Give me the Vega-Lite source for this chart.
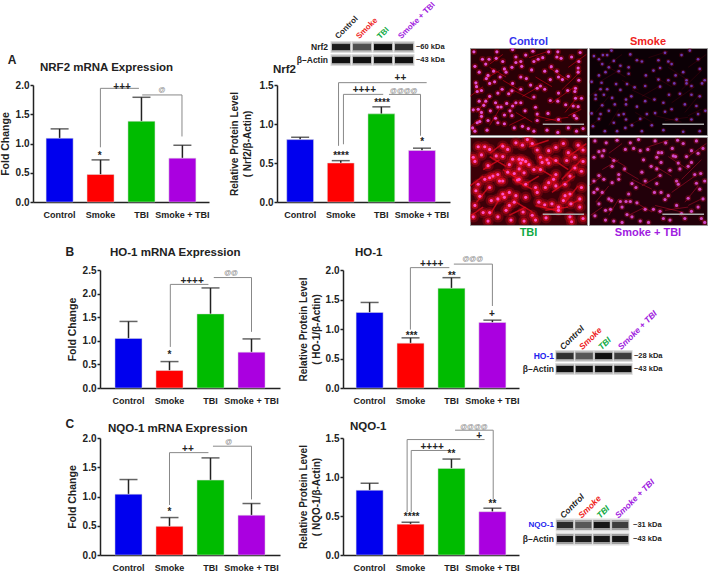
{
"$schema":"https://vega.github.io/schema/vega-lite/v6.json",
"background":"white",
"padding":{"left":0,"top":0,"right":0,"bottom":0},
"resolve":{"scale":{"color":"independent"}},
"config":{"font":"Liberation Sans","view":{"stroke":null},
 "title":{"fontSize":11.5,"fontWeight":"bold","color":"#222","anchor":"start","frame":"group"},
 "axis":{"grid":false,"domainColor":"#222","domainWidth":1.5,"tickColor":"#222","tickWidth":1.5,"tickSize":3,"labelColor":"#222","labelFont":"Liberation Sans","labelFontWeight":"bold","labelFontSize":10,"labelPadding":1,"titleColor":"#222","titleFont":"Liberation Sans","titleFontWeight":"bold","titleFontSize":10.5,"titlePadding":5},
 "axisX":{"ticks":false,"labelAngle":0,"labelFontSize":9,"labelPadding":8,"labelOverlap":false,"labelBound":false,"labelFlush":false},
 "axisY":{"labelOverlap":false,"labelBound":false,"labelFlush":false},
 "text":{"font":"Liberation Sans","fontWeight":"bold"}
},
"datasets":{
"a1":[{"group":"Control","mean":1.09,"upper":1.25},{"group":"Smoke","mean":0.47,"upper":0.72},{"group":"TBI","mean":1.38,"upper":1.79},{"group":"Smoke + TBI","mean":0.75,"upper":0.97}],
"a2":[{"group":"Control","mean":0.80,"upper":0.83},{"group":"Smoke","mean":0.50,"upper":0.53},{"group":"TBI","mean":1.13,"upper":1.22},{"group":"Smoke + TBI","mean":0.66,"upper":0.69}],
"b1":[{"group":"Control","mean":1.05,"upper":1.41},{"group":"Smoke","mean":0.37,"upper":0.56},{"group":"TBI","mean":1.57,"upper":2.12},{"group":"Smoke + TBI","mean":0.76,"upper":1.04}],
"b2":[{"group":"Control","mean":1.28,"upper":1.45},{"group":"Smoke","mean":0.76,"upper":0.85},{"group":"TBI","mean":1.69,"upper":1.87},{"group":"Smoke + TBI","mean":1.11,"upper":1.15}],
"c1":[{"group":"Control","mean":1.04,"upper":1.29},{"group":"Smoke","mean":0.49,"upper":0.64},{"group":"TBI","mean":1.28,"upper":1.66},{"group":"Smoke + TBI","mean":0.68,"upper":0.88}],
"c2":[{"group":"Control","mean":0.83,"upper":0.92},{"group":"Smoke","mean":0.395,"upper":0.42},{"group":"TBI","mean":1.11,"upper":1.23},{"group":"Smoke + TBI","mean":0.555,"upper":0.60}],
"a1l":[{"b":1,"o":1,"q":1.01,"y":0.935},{"b":1,"o":2,"q":1.01,"y":1.943},{"b":1,"o":3,"q":1.95,"y":1.943},{"b":2,"o":1,"q":2.03,"y":1.83},{"b":2,"o":2,"q":3.0,"y":1.83},{"b":2,"o":3,"q":3.0,"y":1.12}],
"a1t":[{"t":"+++","q":1.54,"y":1.97,"k":"sig"},{"t":"@","q":2.51,"y":1.915,"k":"alt"},{"t":"*","q":0.99,"y":0.78,"k":"sig"},{"t":"A","q":-1.146,"y":2.43,"k":"letter"}],
"a2l":[{"b":1,"o":1,"q":0.94,"y":0.72},{"b":1,"o":2,"q":0.94,"y":1.53},{"b":1,"o":3,"q":3.09,"y":1.53},{"b":2,"o":1,"q":1.06,"y":0.74},{"b":2,"o":2,"q":1.06,"y":1.38},{"b":2,"o":3,"q":2.03,"y":1.38},{"b":3,"o":1,"q":2.17,"y":1.38},{"b":3,"o":2,"q":2.94,"y":1.38},{"b":3,"o":3,"q":2.94,"y":0.85}],
"a2t":[{"t":"++","q":2.45,"y":1.59,"k":"sig"},{"t":"++++","q":1.57,"y":1.44,"k":"sig"},{"t":"@@@@","q":2.53,"y":1.42,"k":"alt"},{"t":"****","q":1.0,"y":0.59,"k":"sig"},{"t":"****","q":2.0,"y":1.27,"k":"sig"},{"t":"*","q":2.98,"y":0.765,"k":"sig"}],
"b1l":[{"b":1,"o":1,"q":1.02,"y":0.87},{"b":1,"o":2,"q":1.02,"y":2.195},{"b":1,"o":3,"q":1.95,"y":2.195},{"b":2,"o":1,"q":2.08,"y":2.34},{"b":2,"o":2,"q":3.0,"y":2.34},{"b":2,"o":3,"q":3.0,"y":1.19}],
"b1t":[{"t":"++++","q":1.55,"y":2.27,"k":"sig"},{"t":"@@","q":2.5,"y":2.44,"k":"alt"},{"t":"*","q":1.0,"y":0.69,"k":"sig"},{"t":"B","q":-1.43,"y":2.88,"k":"letter"}],
"b2l":[{"b":1,"o":1,"q":1.01,"y":0.99},{"b":1,"o":2,"q":1.01,"y":2.04},{"b":1,"o":3,"q":1.96,"y":2.04},{"b":2,"o":1,"q":2.07,"y":2.10},{"b":2,"o":2,"q":3.01,"y":2.10},{"b":2,"o":3,"q":3.01,"y":1.39}],
"b2t":[{"t":"++++","q":1.53,"y":2.11,"k":"sig"},{"t":"@@@","q":2.53,"y":2.19,"k":"alt"},{"t":"***","q":1.04,"y":0.88,"k":"sig"},{"t":"**","q":2.02,"y":1.9,"k":"sig"},{"t":"+","q":3.0,"y":1.26,"k":"sig"}],
"c1l":[{"b":1,"o":1,"q":1.0,"y":0.855},{"b":1,"o":2,"q":1.0,"y":1.75},{"b":1,"o":3,"q":1.95,"y":1.75},{"b":2,"o":1,"q":2.06,"y":1.86},{"b":2,"o":2,"q":3.0,"y":1.86},{"b":2,"o":3,"q":3.0,"y":0.95}],
"c1t":[{"t":"++","q":1.45,"y":1.82,"k":"sig"},{"t":"@","q":2.44,"y":1.94,"k":"alt"},{"t":"*","q":1.0,"y":0.74,"k":"sig"},{"t":"C","q":-1.43,"y":2.24,"k":"letter"}],
"c2l":[{"b":1,"o":1,"q":0.93,"y":0.55},{"b":1,"o":2,"q":0.93,"y":1.48},{"b":1,"o":3,"q":2.82,"y":1.48},{"b":2,"o":1,"q":1.03,"y":0.55},{"b":2,"o":2,"q":1.03,"y":1.34},{"b":2,"o":3,"q":1.96,"y":1.34},{"b":3,"o":1,"q":2.1,"y":1.6},{"b":3,"o":2,"q":3.03,"y":1.6},{"b":3,"o":3,"q":3.03,"y":0.71}],
"c2t":[{"t":"+","q":2.69,"y":1.52,"k":"sig"},{"t":"++++","q":1.54,"y":1.39,"k":"sig"},{"t":"@@@@","q":2.56,"y":1.64,"k":"alt"},{"t":"**","q":2.01,"y":1.29,"k":"sig"},{"t":"****","q":1.04,"y":0.49,"k":"sig"},{"t":"**","q":3.01,"y":0.65,"k":"sig"}],
"blotA":[{"q":0,"r":0,"i":0.9},{"q":1,"r":0,"i":0.5},{"q":2,"r":0,"i":1},{"q":3,"r":0,"i":0.75},{"q":0,"r":1,"i":1},{"q":1,"r":1,"i":1},{"q":2,"r":1,"i":1},{"q":3,"r":1,"i":1}],
"blotB":[{"q":0,"r":0,"i":0.75},{"q":1,"r":0,"i":0.45},{"q":2,"r":0,"i":1},{"q":3,"r":0,"i":0.65},{"q":0,"r":1,"i":1},{"q":1,"r":1,"i":1},{"q":2,"r":1,"i":1},{"q":3,"r":1,"i":1}],
"blotC":[{"q":0,"r":0,"i":0.8},{"q":1,"r":0,"i":0.45},{"q":2,"r":0,"i":0.95},{"q":3,"r":0,"i":0.65},{"q":0,"r":1,"i":0.95},{"q":1,"r":1,"i":0.9},{"q":2,"r":1,"i":0.95},{"q":3,"r":1,"i":0.95}],
"laneA":[{"group":"Control","q":-0.2},{"group":"Smoke","q":0.8},{"group":"TBI","q":1.8},{"group":"Smoke + TBI","q":2.8}],
"fib":[{"x":0,"y":150,"x2":40,"y2":120},{"x":60,"y":60,"x2":110,"y2":90},{"x":40,"y":100,"x2":90,"y2":70},{"x":100,"y":100,"x2":150,"y2":130},{"x":130,"y":130,"x2":190,"y2":160},{"x":160,"y":150,"x2":210,"y2":120},{"x":250,"y":170,"x2":320,"y2":120},{"x":280,"y":130,"x2":340,"y2":70},{"x":240,"y":60,"x2":300,"y2":100},{"x":300,"y":60,"x2":355,"y2":20},{"x":200,"y":210,"x2":280,"y2":230},{"x":230,"y":225,"x2":300,"y2":215},{"x":90,"y":190,"x2":60,"y2":240},{"x":20,"y":200,"x2":60,"y2":150},{"x":140,"y":200,"x2":190,"y2":230},{"x":330,"y":150,"x2":290,"y2":200},{"x":180,"y":30,"x2":240,"y2":10},{"x":100,"y":20,"x2":60,"y2":50},{"x":120,"y":240,"x2":170,"y2":215},{"x":5,"y":240,"x2":40,"y2":215},{"x":300,"y":210,"x2":340,"y2":190},{"x":200,"y":90,"x2":250,"y2":120}],
"m1":[{"x":12,"y":12},{"x":82,"y":12},{"x":130,"y":5},{"x":38,"y":35},{"x":58,"y":35},{"x":80,"y":32},{"x":100,"y":42},{"x":140,"y":28},{"x":170,"y":22},{"x":192,"y":10},{"x":240,"y":12},{"x":268,"y":12},{"x":336,"y":14},{"x":310,"y":28},{"x":278,"y":32},{"x":265,"y":28},{"x":222,"y":30},{"x":208,"y":35},{"x":195,"y":42},{"x":155,"y":42},{"x":140,"y":45},{"x":128,"y":60},{"x":105,"y":65},{"x":72,"y":72},{"x":48,"y":50},{"x":15,"y":57},{"x":28,"y":75},{"x":55,"y":85},{"x":18,"y":108},{"x":50,"y":95},{"x":92,"y":90},{"x":110,"y":75},{"x":158,"y":57},{"x":188,"y":68},{"x":228,"y":72},{"x":248,"y":58},{"x":265,"y":72},{"x":332,"y":42},{"x":330,"y":62},{"x":330,"y":75},{"x":300,"y":88},{"x":270,"y":90},{"x":245,"y":98},{"x":282,"y":98},{"x":172,"y":95},{"x":155,"y":90},{"x":130,"y":110},{"x":75,"y":105},{"x":60,"y":110},{"x":98,"y":128},{"x":20,"y":120},{"x":35,"y":132},{"x":22,"y":135},{"x":60,"y":150},{"x":85,"y":140},{"x":118,"y":142},{"x":128,"y":133},{"x":155,"y":128},{"x":185,"y":115},{"x":205,"y":125},{"x":215,"y":118},{"x":228,"y":128},{"x":270,"y":140},{"x":298,"y":132},{"x":322,"y":125},{"x":332,"y":100},{"x":320,"y":135},{"x":195,"y":152},{"x":245,"y":163},{"x":268,"y":165},{"x":292,"y":176},{"x":322,"y":156},{"x":340,"y":156},{"x":315,"y":180},{"x":330,"y":182},{"x":28,"y":165},{"x":48,"y":165},{"x":42,"y":178},{"x":10,"y":192},{"x":25,"y":190},{"x":62,"y":195},{"x":78,"y":170},{"x":85,"y":183},{"x":95,"y":183},{"x":112,"y":172},{"x":130,"y":180},{"x":140,"y":170},{"x":155,"y":170},{"x":168,"y":195},{"x":200,"y":184},{"x":238,"y":203},{"x":205,"y":205},{"x":105,"y":208},{"x":122,"y":195},{"x":128,"y":210},{"x":35,"y":200},{"x":35,"y":212},{"x":78,"y":218},{"x":30,"y":228},{"x":22,"y":232},{"x":55,"y":225},{"x":85,"y":232},{"x":105,"y":235},{"x":205,"y":225},{"x":270,"y":222},{"x":318,"y":210},{"x":325,"y":218},{"x":8,"y":248},{"x":15,"y":258},{"x":52,"y":255},{"x":135,"y":248},{"x":160,"y":243},{"x":178,"y":250},{"x":195,"y":258},{"x":235,"y":255},{"x":268,"y":262},{"x":300,"y":248},{"x":325,"y":258},{"x":345,"y":250}],
"m2":[{"x":68,"y":8},{"x":42,"y":22},{"x":55,"y":22},{"x":125,"y":20},{"x":145,"y":38},{"x":230,"y":15},{"x":305,"y":8},{"x":280,"y":22},{"x":240,"y":42},{"x":210,"y":38},{"x":160,"y":42},{"x":75,"y":40},{"x":95,"y":55},{"x":60,"y":60},{"x":40,"y":50},{"x":30,"y":35},{"x":15,"y":25},{"x":120,"y":60},{"x":195,"y":70},{"x":215,"y":62},{"x":250,"y":50},{"x":285,"y":75},{"x":330,"y":35},{"x":335,"y":65},{"x":350,"y":100},{"x":295,"y":100},{"x":295,"y":110},{"x":262,"y":85},{"x":240,"y":100},{"x":210,"y":98},{"x":172,"y":85},{"x":120,"y":80},{"x":90,"y":72},{"x":50,"y":75},{"x":30,"y":85},{"x":8,"y":105},{"x":38,"y":108},{"x":82,"y":112},{"x":115,"y":112},{"x":138,"y":122},{"x":170,"y":118},{"x":215,"y":120},{"x":258,"y":110},{"x":310,"y":118},{"x":342,"y":110},{"x":35,"y":128},{"x":55,"y":128},{"x":95,"y":130},{"x":128,"y":150},{"x":112,"y":160},{"x":20,"y":146},{"x":20,"y":158},{"x":45,"y":145},{"x":70,"y":155},{"x":242,"y":145},{"x":275,"y":142},{"x":310,"y":145},{"x":335,"y":150},{"x":198,"y":160},{"x":170,"y":165},{"x":40,"y":178},{"x":78,"y":175},{"x":112,"y":175},{"x":60,"y":195},{"x":8,"y":203},{"x":145,"y":182},{"x":200,"y":202},{"x":175,"y":205},{"x":225,"y":170},{"x":250,"y":190},{"x":290,"y":175},{"x":325,"y":180},{"x":352,"y":195},{"x":35,"y":205},{"x":90,"y":208},{"x":105,"y":205},{"x":112,"y":222},{"x":75,"y":232},{"x":30,"y":220},{"x":230,"y":198},{"x":310,"y":222},{"x":330,"y":205},{"x":265,"y":222},{"x":155,"y":220},{"x":130,"y":240},{"x":190,"y":240},{"x":12,"y":243},{"x":48,"y":258},{"x":85,"y":258},{"x":110,"y":248},{"x":160,"y":258},{"x":285,"y":260},{"x":225,"y":255},{"x":335,"y":258}],
"m3":[{"x":25,"y":30},{"x":45,"y":30},{"x":60,"y":38},{"x":10,"y":62},{"x":35,"y":55},{"x":15,"y":75},{"x":55,"y":88},{"x":80,"y":58},{"x":100,"y":60},{"x":115,"y":38},{"x":140,"y":18},{"x":100,"y":28},{"x":160,"y":25},{"x":175,"y":8},{"x":190,"y":20},{"x":205,"y":40},{"x":240,"y":42},{"x":262,"y":32},{"x":285,"y":20},{"x":300,"y":48},{"x":330,"y":25},{"x":345,"y":40},{"x":130,"y":68},{"x":120,"y":85},{"x":150,"y":68},{"x":160,"y":70},{"x":170,"y":75},{"x":155,"y":80},{"x":180,"y":85},{"x":215,"y":62},{"x":235,"y":70},{"x":220,"y":78},{"x":240,"y":80},{"x":262,"y":72},{"x":295,"y":72},{"x":320,"y":62},{"x":345,"y":75},{"x":195,"y":100},{"x":215,"y":100},{"x":150,"y":98},{"x":165,"y":110},{"x":115,"y":108},{"x":135,"y":112},{"x":85,"y":115},{"x":70,"y":120},{"x":45,"y":130},{"x":25,"y":145},{"x":18,"y":165},{"x":60,"y":125},{"x":150,"y":130},{"x":145,"y":132},{"x":100,"y":135},{"x":90,"y":135},{"x":255,"y":130},{"x":262,"y":115},{"x":240,"y":140},{"x":290,"y":145},{"x":305,"y":120},{"x":320,"y":95},{"x":340,"y":105},{"x":200,"y":155},{"x":170,"y":145},{"x":230,"y":155},{"x":262,"y":150},{"x":60,"y":155},{"x":120,"y":170},{"x":100,"y":175},{"x":85,"y":190},{"x":30,"y":182},{"x":65,"y":195},{"x":105,"y":185},{"x":140,"y":180},{"x":170,"y":185},{"x":205,"y":170},{"x":290,"y":180},{"x":305,"y":175},{"x":340,"y":155},{"x":335,"y":190},{"x":15,"y":210},{"x":40,"y":232},{"x":60,"y":232},{"x":120,"y":210},{"x":135,"y":200},{"x":162,"y":230},{"x":190,"y":240},{"x":210,"y":200},{"x":228,"y":208},{"x":250,"y":205},{"x":270,"y":215},{"x":285,"y":195},{"x":308,"y":205},{"x":335,"y":215},{"x":10,"y":245},{"x":55,"y":258},{"x":110,"y":225},{"x":232,"y":248},{"x":270,"y":225},{"x":305,"y":245},{"x":345,"y":250},{"x":85,"y":245},{"x":165,"y":258},{"x":125,"y":255},{"x":200,"y":255},{"x":310,"y":260}],
"m4":[{"x":18,"y":12},{"x":52,"y":18},{"x":85,"y":10},{"x":125,"y":18},{"x":150,"y":8},{"x":200,"y":12},{"x":232,"y":18},{"x":268,"y":10},{"x":285,"y":20},{"x":325,"y":12},{"x":345,"y":35},{"x":45,"y":42},{"x":30,"y":45},{"x":15,"y":62},{"x":40,"y":58},{"x":75,"y":72},{"x":110,"y":38},{"x":135,"y":35},{"x":155,"y":42},{"x":178,"y":38},{"x":210,"y":48},{"x":220,"y":48},{"x":252,"y":35},{"x":255,"y":58},{"x":262,"y":60},{"x":310,"y":42},{"x":330,"y":50},{"x":295,"y":60},{"x":310,"y":78},{"x":165,"y":70},{"x":205,"y":62},{"x":218,"y":78},{"x":188,"y":90},{"x":205,"y":98},{"x":270,"y":80},{"x":275,"y":98},{"x":300,"y":90},{"x":320,"y":115},{"x":338,"y":112},{"x":70,"y":90},{"x":108,"y":98},{"x":90,"y":115},{"x":160,"y":108},{"x":215,"y":118},{"x":245,"y":102},{"x":30,"y":118},{"x":45,"y":130},{"x":70,"y":140},{"x":90,"y":130},{"x":130,"y":143},{"x":142,"y":155},{"x":170,"y":135},{"x":205,"y":143},{"x":265,"y":135},{"x":270,"y":145},{"x":325,"y":142},{"x":350,"y":135},{"x":15,"y":135},{"x":25,"y":160},{"x":40,"y":170},{"x":15,"y":170},{"x":60,"y":190},{"x":68,"y":195},{"x":95,"y":198},{"x":112,"y":198},{"x":125,"y":198},{"x":120,"y":175},{"x":145,"y":202},{"x":198,"y":170},{"x":218,"y":170},{"x":240,"y":180},{"x":230,"y":192},{"x":300,"y":188},{"x":335,"y":160},{"x":345,"y":190},{"x":30,"y":205},{"x":50,"y":225},{"x":65,"y":222},{"x":100,"y":215},{"x":170,"y":222},{"x":195,"y":222},{"x":215,"y":228},{"x":280,"y":235},{"x":310,"y":228},{"x":265,"y":210},{"x":330,"y":215},{"x":18,"y":242},{"x":50,"y":255},{"x":130,"y":245},{"x":155,"y":258},{"x":180,"y":262},{"x":115,"y":238},{"x":75,"y":258},{"x":245,"y":255},{"x":290,"y":250},{"x":340,"y":250},{"x":350,"y":262},{"x":225,"y":250},{"x":100,"y":262}],
"sbar":[{"x":222,"x2":348,"y":237}]
},
"spacing":7,
"vconcat":[
 {"spacing":19,"resolve":{"scale":{"color":"independent"}},"hconcat":[
  {"spacing":-14,"resolve":{"scale":{"color":"independent"}},"vconcat":[
   {"width":417,"height":60,
    "layer":[
     {"data":{"name":"blotA"},"encoding":{"x":{"field":"q","type":"quantitative","scale":{"domain":[-14.67,5.19],"nice":false,"zero":false},"axis":null},"y":{"field":"r","type":"quantitative","scale":{"domain":[-3.46,1.15],"nice":false,"zero":false,"reverse":true},"axis":null}},
      "layer":[
       {"mark":{"type":"tick","orient":"horizontal","size":21,"thickness":12,"color":"#dcdcdc","opacity":1}},
       {"mark":{"type":"tick","orient":"horizontal","size":19,"thickness":9,"color":"#111","opacity":0.3}},
       {"mark":{"type":"tick","orient":"horizontal","size":18,"thickness":6,"color":"#111"},"encoding":{"opacity":{"field":"i","type":"quantitative","scale":{"domain":[0,1],"range":[0.1,1]},"legend":null}}}
      ]},
     {"data":{"name":"laneA"},"mark":{"type":"text","angle":315,"align":"left","baseline":"middle","fontSize":8},"encoding":{"x":{"field":"q","type":"quantitative"},"y":{"datum":-0.7},"text":{"field":"group"},"color":{"field":"group","type":"nominal","scale":{"domain":["Control","Smoke","TBI","Smoke + TBI"],"range":["#222222","#ee2222","#11aa44","#a020e0"]},"legend":null}}},
     {"data":{"values":[{"t":"Nrf2","r":0},{"t":"β–Actin","r":1}]},"mark":{"type":"text","align":"right","fontSize":8.5,"color":"#222"},"encoding":{"x":{"datum":-0.62},"y":{"field":"r","type":"quantitative"},"text":{"field":"t"}}},
     {"data":{"values":[{"t":"~60 kDa","r":0},{"t":"~43 kDa","r":1}]},"mark":{"type":"text","align":"left","fontSize":7.5,"color":"#222"},"encoding":{"x":{"datum":3.57},"y":{"field":"r","type":"quantitative"},"text":{"field":"t"}}}
    ]},
   {"bounds":"flush","spacing":68,"resolve":{"scale":{"color":"independent"}},"hconcat":[
    {"width":176,"height":117,"title":{"text":"NRF2 mRNA Expression","dx":7,"offset":-20},"resolve":{"scale":{"x":"independent"},"axis":{"x":"independent"}},
     "layer":[
      {"data":{"name":"a1"},"encoding":{"x":{"field":"group","type":"nominal","sort":["Control","Smoke","TBI","Smoke + TBI"],"title":null,"scale":{"paddingInner":0.34,"paddingOuter":0.32}},"y":{"field":"mean","type":"quantitative","scale":{"domain":[0,2],"nice":false},"axis":{"title":"Fold Change","values":[0,0.5,1,1.5,2],"format":".1f","labelOverlap":false}}},
       "layer":[
        {"mark":{"type":"rule","color":"#222","strokeWidth":1.5},"encoding":{"y2":{"field":"upper"}}},
        {"mark":{"type":"tick","size":18,"thickness":1.5,"color":"#222"},"encoding":{"y":{"field":"upper","type":"quantitative","axis":{"title":"Fold Change","values":[0,0.5,1,1.5,2],"format":".1f","labelOverlap":false}}}},
        {"mark":{"type":"bar","stroke":"#ddd","strokeWidth":0.5},"encoding":{"color":{"field":"group","type":"nominal","scale":{"domain":["Control","Smoke","TBI","Smoke + TBI"],"range":["#0000ee","#ff0000","#00bb00","#aa00e0"]},"legend":null}}}
       ]},
      {"encoding":{"x":{"field":"q","type":"quantitative","scale":{"domain":[-0.634,3.659],"nice":false,"zero":false},"axis":null},"y":{"field":"y","type":"quantitative","axis":{"title":"Fold Change","values":[0,0.5,1,1.5,2],"format":".1f","labelOverlap":false}}},
       "layer":[
        {"data":{"name":"a1l"},"mark":{"type":"line","color":"#888","strokeWidth":1},"encoding":{"detail":{"field":"b"},"order":{"field":"o"}}},
        {"data":{"name":"a1t"},"transform":[{"filter":"datum.k=='sig'"}],"mark":{"type":"text","fontSize":10,"color":"#222"},"encoding":{"text":{"field":"t"}}},
        {"data":{"name":"a1t"},"transform":[{"filter":"datum.k=='alt'"}],"mark":{"type":"text","fontSize":7,"color":"#888"},"encoding":{"text":{"field":"t"}}},
        {"data":{"name":"a1t"},"transform":[{"filter":"datum.k=='letter'"}],"mark":{"type":"text","fontSize":12,"color":"#222"},"encoding":{"text":{"field":"t"}}}
       ]}
     ]},
    {"width":173,"height":117,"title":{"text":"Nrf2","dx":-4,"offset":-3},"resolve":{"scale":{"x":"independent"},"axis":{"x":"independent"}},
     "layer":[
      {"data":{"name":"a2"},"encoding":{"x":{"field":"group","type":"nominal","sort":["Control","Smoke","TBI","Smoke + TBI"],"title":null,"scale":{"paddingInner":0.34,"paddingOuter":0.3,"align":0.4}},"y":{"field":"mean","type":"quantitative","scale":{"domain":[0,1.5],"nice":false},"axis":{"title":["Relative Protein Level","( Nrf2/β-Actin)"],"titleFontSize":10,"titleLineHeight":13,"titlePadding":7,"values":[0,0.5,1,1.5],"format":".1f","labelOverlap":false}}},
       "layer":[
        {"mark":{"type":"rule","color":"#222","strokeWidth":1.5},"encoding":{"y2":{"field":"upper"}}},
        {"mark":{"type":"tick","size":18,"thickness":1.5,"color":"#222"},"encoding":{"y":{"field":"upper","type":"quantitative","axis":{"title":["Relative Protein Level","( Nrf2/β-Actin)"],"titleFontSize":10,"titleLineHeight":13,"titlePadding":7,"values":[0,0.5,1,1.5],"format":".1f","labelOverlap":false}}}},
        {"mark":{"type":"bar","stroke":"#ddd","strokeWidth":0.5},"encoding":{"color":{"field":"group","type":"nominal","scale":{"domain":["Control","Smoke","TBI","Smoke + TBI"],"range":["#0000ee","#ff0000","#00bb00","#aa00e0"]},"legend":null}}}
       ]},
      {"encoding":{"x":{"field":"q","type":"quantitative","scale":{"domain":[-0.561,3.659],"nice":false,"zero":false},"axis":null},"y":{"field":"y","type":"quantitative","axis":{"title":["Relative Protein Level","( Nrf2/β-Actin)"],"titleFontSize":10,"titleLineHeight":13,"titlePadding":7,"values":[0,0.5,1,1.5],"format":".1f","labelOverlap":false}}},
       "layer":[
        {"data":{"name":"a2l"},"mark":{"type":"line","color":"#888","strokeWidth":1},"encoding":{"detail":{"field":"b"},"order":{"field":"o"}}},
        {"data":{"name":"a2t"},"transform":[{"filter":"datum.k=='sig'"}],"mark":{"type":"text","fontSize":10,"color":"#222"},"encoding":{"text":{"field":"t"}}},
        {"data":{"name":"a2t"},"transform":[{"filter":"datum.k=='alt'"}],"mark":{"type":"text","fontSize":7,"color":"#888"},"encoding":{"text":{"field":"t"}}}
       ]}
     ]}
   ]}
  ]},
  {"spacing":0,"vconcat":[
   {"width":235,"height":33,"data":{"values":[{"t":""}]},"mark":{"type":"text"},"encoding":{"text":{"field":"t"}}},
   {"bounds":"flush","spacing":2,"hconcat":[
    {"width":117,"height":87,"view":{"fill":"#2a0006","stroke":"#999"},"title":{"text":"Control","anchor":"middle","fontSize":11,"color":"#3333ee","offset":1},
     "encoding":{"x":{"field":"x","type":"quantitative","scale":{"domain":[0,357],"nice":false},"axis":null},"y":{"field":"y","type":"quantitative","scale":{"domain":[0,270],"nice":false,"reverse":true},"axis":null}},
     "layer":[
      {"data":{"name":"fib"},"mark":{"type":"rule","clip":true,"color":"#e00018","strokeWidth":1,"opacity":0.55},"encoding":{"x2":{"field":"x2"},"y2":{"field":"y2"}}},
      {"data":{"name":"m1"},"mark":{"type":"point","clip":true,"filled":true,"size":40,"color":"#e00018","opacity":0.3}},
      {"data":{"name":"m1"},"mark":{"type":"point","clip":true,"filled":true,"size":10,"color":"#e050d8","opacity":1}},
      {"data":{"name":"sbar"},"mark":{"type":"rule","color":"#aaa","strokeWidth":1.5},"encoding":{"x2":{"field":"x2"}}}
     ]},
    {"width":118,"height":87,"view":{"fill":"#0c0006","stroke":"#999"},"title":{"text":"Smoke","anchor":"middle","fontSize":11,"color":"#ee2222","offset":1},
     "encoding":{"x":{"field":"x","type":"quantitative","scale":{"domain":[0,357],"nice":false},"axis":null},"y":{"field":"y","type":"quantitative","scale":{"domain":[0,270],"nice":false,"reverse":true},"axis":null}},
     "layer":[
      {"data":{"name":"fib"},"mark":{"type":"rule","clip":true,"color":"#a00018","strokeWidth":1,"opacity":0.2},"encoding":{"x2":{"field":"x2"},"y2":{"field":"y2"}}},
      {"data":{"name":"m2"},"mark":{"type":"point","clip":true,"filled":true,"size":25,"color":"#a00020","opacity":0.3}},
      {"data":{"name":"m2"},"mark":{"type":"point","clip":true,"filled":true,"size":7,"color":"#7040c8","opacity":0.9}},
      {"data":{"name":"sbar"},"mark":{"type":"rule","color":"#aaa","strokeWidth":1.5},"encoding":{"x2":{"field":"x2"}}}
     ]}
   ]},
   {"bounds":"flush","spacing":2,"hconcat":[
    {"width":117,"height":88,"view":{"fill":"#3c0008","stroke":"#999"},"title":{"text":"TBI","orient":"bottom","anchor":"middle","fontSize":11,"color":"#11aa44","offset":2},
     "encoding":{"x":{"field":"x","type":"quantitative","scale":{"domain":[0,357],"nice":false},"axis":null},"y":{"field":"y","type":"quantitative","scale":{"domain":[0,270],"nice":false,"reverse":true},"axis":null}},
     "layer":[
      {"data":{"name":"fib"},"mark":{"type":"rule","clip":true,"color":"#f00c20","strokeWidth":1.5,"opacity":0.7},"encoding":{"x2":{"field":"x2"},"y2":{"field":"y2"}}},
      {"data":{"name":"m3"},"mark":{"type":"point","clip":true,"filled":true,"size":130,"color":"#e00c20","opacity":0.25}},
      {"data":{"name":"m3"},"mark":{"type":"point","clip":true,"filled":true,"size":45,"color":"#f80c20","opacity":0.5}},
      {"data":{"name":"m3"},"mark":{"type":"point","clip":true,"filled":true,"size":10,"color":"#ff50c8","opacity":1}},
      {"data":{"name":"sbar"},"mark":{"type":"rule","color":"#aaa","strokeWidth":1.5},"encoding":{"x2":{"field":"x2"}}}
     ]},
    {"width":118,"height":88,"view":{"fill":"#22000a","stroke":"#999"},"title":{"text":"Smoke + TBI","orient":"bottom","anchor":"middle","fontSize":11,"color":"#a020e0","offset":2},
     "encoding":{"x":{"field":"x","type":"quantitative","scale":{"domain":[0,357],"nice":false},"axis":null},"y":{"field":"y","type":"quantitative","scale":{"domain":[0,270],"nice":false,"reverse":true},"axis":null}},
     "layer":[
      {"data":{"name":"fib"},"mark":{"type":"rule","clip":true,"color":"#d01030","strokeWidth":1,"opacity":0.45},"encoding":{"x2":{"field":"x2"},"y2":{"field":"y2"}}},
      {"data":{"name":"m4"},"mark":{"type":"point","clip":true,"filled":true,"size":35,"color":"#d01030","opacity":0.3}},
      {"data":{"name":"m4"},"mark":{"type":"point","clip":true,"filled":true,"size":10,"color":"#d048c8","opacity":1}},
      {"data":{"name":"sbar"},"mark":{"type":"rule","color":"#aaa","strokeWidth":1.5},"encoding":{"x2":{"field":"x2"}}}
     ]}
   ]}
  ]}
 ]},
 {"spacing":12,"resolve":{"scale":{"color":"independent"}},"vconcat":[
  {"spacing":2,"resolve":{"scale":{"color":"independent"}},"hconcat":[
   {"width":30,"height":10,"data":{"values":[{"t":""}]},"mark":{"type":"text"},"encoding":{"text":{"field":"t"}}},
   {"bounds":"flush","spacing":63,"resolve":{"scale":{"color":"independent"}},"hconcat":[
    {"width":180,"height":118,"title":{"text":"HO-1 mRNA Expression","dx":10,"offset":-12},"resolve":{"scale":{"x":"independent"},"axis":{"x":"independent"}},
     "layer":[
      {"data":{"name":"b1"},"encoding":{"x":{"field":"group","type":"nominal","sort":["Control","Smoke","TBI","Smoke + TBI"],"title":null,"scale":{"paddingInner":0.34,"paddingOuter":0.365}},"y":{"field":"mean","type":"quantitative","scale":{"domain":[0,2.5],"nice":false},"axis":{"title":"Fold Change","values":[0,0.5,1,1.5,2,2.5],"format":".1f","labelOverlap":false}}},
       "layer":[
        {"mark":{"type":"rule","color":"#222","strokeWidth":1.5},"encoding":{"y2":{"field":"upper"}}},
        {"mark":{"type":"tick","size":18,"thickness":1.5,"color":"#222"},"encoding":{"y":{"field":"upper","type":"quantitative","axis":{"title":"Fold Change","values":[0,0.5,1,1.5,2,2.5],"format":".1f","labelOverlap":false}}}},
        {"mark":{"type":"bar","stroke":"#ddd","strokeWidth":0.5},"encoding":{"color":{"field":"group","type":"nominal","scale":{"domain":["Control","Smoke","TBI","Smoke + TBI"],"range":["#0000ee","#ff0000","#00bb00","#aa00e0"]},"legend":null}}}
       ]},
      {"encoding":{"x":{"field":"q","type":"quantitative","scale":{"domain":[-0.695,3.695],"nice":false,"zero":false},"axis":null},"y":{"field":"y","type":"quantitative","axis":{"title":"Fold Change","values":[0,0.5,1,1.5,2,2.5],"format":".1f","labelOverlap":false}}},
       "layer":[
        {"data":{"name":"b1l"},"mark":{"type":"line","color":"#888","strokeWidth":1},"encoding":{"detail":{"field":"b"},"order":{"field":"o"}}},
        {"data":{"name":"b1t"},"transform":[{"filter":"datum.k=='sig'"}],"mark":{"type":"text","fontSize":10,"color":"#222"},"encoding":{"text":{"field":"t"}}},
        {"data":{"name":"b1t"},"transform":[{"filter":"datum.k=='alt'"}],"mark":{"type":"text","fontSize":7,"color":"#888"},"encoding":{"text":{"field":"t"}}},
        {"data":{"name":"b1t"},"transform":[{"filter":"datum.k=='letter'"}],"mark":{"type":"text","fontSize":12,"color":"#222"},"encoding":{"text":{"field":"t"}}}
       ]}
     ]},
    {"width":176,"height":118,"title":{"text":"HO-1","dx":12,"offset":-4},"resolve":{"scale":{"x":"independent"},"axis":{"x":"independent"}},
     "layer":[
      {"data":{"name":"b2"},"encoding":{"x":{"field":"group","type":"nominal","sort":["Control","Smoke","TBI","Smoke + TBI"],"title":null,"scale":{"paddingInner":0.34,"paddingOuter":0.32}},"y":{"field":"mean","type":"quantitative","scale":{"domain":[0,2],"nice":false},"axis":{"title":["Relative Protein Level","( HO-1/β-Actin)"],"titleFontSize":10,"titleLineHeight":13,"titlePadding":4,"values":[0,0.5,1,1.5,2],"format":".1f","labelOverlap":false}}},
       "layer":[
        {"mark":{"type":"rule","color":"#222","strokeWidth":1.5},"encoding":{"y2":{"field":"upper"}}},
        {"mark":{"type":"tick","size":18,"thickness":1.5,"color":"#222"},"encoding":{"y":{"field":"upper","type":"quantitative","axis":{"title":["Relative Protein Level","( HO-1/β-Actin)"],"titleFontSize":10,"titleLineHeight":13,"titlePadding":4,"values":[0,0.5,1,1.5,2],"format":".1f","labelOverlap":false}}}},
        {"mark":{"type":"bar","stroke":"#ddd","strokeWidth":0.5},"encoding":{"color":{"field":"group","type":"nominal","scale":{"domain":["Control","Smoke","TBI","Smoke + TBI"],"range":["#0000ee","#ff0000","#00bb00","#aa00e0"]},"legend":null}}}
       ]},
      {"encoding":{"x":{"field":"q","type":"quantitative","scale":{"domain":[-0.634,3.659],"nice":false,"zero":false},"axis":null},"y":{"field":"y","type":"quantitative","axis":{"title":["Relative Protein Level","( HO-1/β-Actin)"],"titleFontSize":10,"titleLineHeight":13,"titlePadding":4,"values":[0,0.5,1,1.5,2],"format":".1f","labelOverlap":false}}},
       "layer":[
        {"data":{"name":"b2l"},"mark":{"type":"line","color":"#888","strokeWidth":1},"encoding":{"detail":{"field":"b"},"order":{"field":"o"}}},
        {"data":{"name":"b2t"},"transform":[{"filter":"datum.k=='sig'"}],"mark":{"type":"text","fontSize":10,"color":"#222"},"encoding":{"text":{"field":"t"}}},
        {"data":{"name":"b2t"},"transform":[{"filter":"datum.k=='alt'"}],"mark":{"type":"text","fontSize":7,"color":"#888"},"encoding":{"text":{"field":"t"}}}
       ]}
     ]}
   ]},
   {"width":175,"height":118,
    "layer":[
     {"data":{"name":"blotB"},"encoding":{"x":{"field":"q","type":"quantitative","scale":{"domain":[-2.12,6.94],"nice":false,"zero":false},"axis":null},"y":{"field":"r","type":"quantitative","scale":{"domain":[-6.62,2.46],"nice":false,"zero":false,"reverse":true},"axis":null}},
      "layer":[
       {"mark":{"type":"tick","orient":"horizontal","size":19.5,"thickness":12,"color":"#dcdcdc","opacity":1}},
       {"mark":{"type":"tick","orient":"horizontal","size":18,"thickness":9,"color":"#111","opacity":0.3}},
       {"mark":{"type":"tick","orient":"horizontal","size":17,"thickness":6,"color":"#111"},"encoding":{"opacity":{"field":"i","type":"quantitative","scale":{"domain":[0,1],"range":[0.1,1]},"legend":null}}}
      ]},
     {"data":{"name":"laneA"},"mark":{"type":"text","angle":315,"align":"left","baseline":"middle","fontSize":8.5,"fontStyle":"italic"},"encoding":{"x":{"field":"q","type":"quantitative"},"y":{"datum":-0.6},"text":{"field":"group"},"color":{"field":"group","type":"nominal","scale":{"domain":["Control","Smoke","TBI","Smoke + TBI"],"range":["#222222","#ee2222","#11aa44","#a020e0"]},"legend":null}}},
     {"data":{"values":[{"t":"HO-1","r":0}]},"mark":{"type":"text","align":"right","fontSize":8.5,"color":"#2222ee"},"encoding":{"x":{"datum":-0.57},"y":{"field":"r","type":"quantitative"},"text":{"field":"t"}}},
     {"data":{"values":[{"t":"β–Actin","r":1}]},"mark":{"type":"text","align":"right","fontSize":8.5,"color":"#222"},"encoding":{"x":{"datum":-0.57},"y":{"field":"r","type":"quantitative"},"text":{"field":"t"}}},
     {"data":{"values":[{"t":"~28 kDa","r":0},{"t":"~43 kDa","r":1}]},"mark":{"type":"text","align":"left","fontSize":7.5,"color":"#222"},"encoding":{"x":{"datum":3.57},"y":{"field":"r","type":"quantitative"},"text":{"field":"t"}}}
    ]}
  ]},
  {"spacing":2,"resolve":{"scale":{"color":"independent"}},"hconcat":[
   {"width":30,"height":10,"data":{"values":[{"t":""}]},"mark":{"type":"text"},"encoding":{"text":{"field":"t"}}},
   {"bounds":"flush","spacing":63,"resolve":{"scale":{"color":"independent"}},"hconcat":[
    {"width":180,"height":117,"title":{"text":"NQO-1 mRNA Expression","dx":8,"offset":-17},"resolve":{"scale":{"x":"independent"},"axis":{"x":"independent"}},
     "layer":[
      {"data":{"name":"c1"},"encoding":{"x":{"field":"group","type":"nominal","sort":["Control","Smoke","TBI","Smoke + TBI"],"title":null,"scale":{"paddingInner":0.34,"paddingOuter":0.365}},"y":{"field":"mean","type":"quantitative","scale":{"domain":[0,2],"nice":false},"axis":{"title":"Fold Change","values":[0,0.5,1,1.5,2],"format":".1f","labelOverlap":false}}},
       "layer":[
        {"mark":{"type":"rule","color":"#222","strokeWidth":1.5},"encoding":{"y2":{"field":"upper"}}},
        {"mark":{"type":"tick","size":18,"thickness":1.5,"color":"#222"},"encoding":{"y":{"field":"upper","type":"quantitative","axis":{"title":"Fold Change","values":[0,0.5,1,1.5,2],"format":".1f","labelOverlap":false}}}},
        {"mark":{"type":"bar","stroke":"#ddd","strokeWidth":0.5},"encoding":{"color":{"field":"group","type":"nominal","scale":{"domain":["Control","Smoke","TBI","Smoke + TBI"],"range":["#0000ee","#ff0000","#00bb00","#aa00e0"]},"legend":null}}}
       ]},
      {"encoding":{"x":{"field":"q","type":"quantitative","scale":{"domain":[-0.695,3.695],"nice":false,"zero":false},"axis":null},"y":{"field":"y","type":"quantitative","axis":{"title":"Fold Change","values":[0,0.5,1,1.5,2],"format":".1f","labelOverlap":false}}},
       "layer":[
        {"data":{"name":"c1l"},"mark":{"type":"line","color":"#888","strokeWidth":1},"encoding":{"detail":{"field":"b"},"order":{"field":"o"}}},
        {"data":{"name":"c1t"},"transform":[{"filter":"datum.k=='sig'"}],"mark":{"type":"text","fontSize":10,"color":"#222"},"encoding":{"text":{"field":"t"}}},
        {"data":{"name":"c1t"},"transform":[{"filter":"datum.k=='alt'"}],"mark":{"type":"text","fontSize":7,"color":"#888"},"encoding":{"text":{"field":"t"}}},
        {"data":{"name":"c1t"},"transform":[{"filter":"datum.k=='letter'"}],"mark":{"type":"text","fontSize":12,"color":"#222"},"encoding":{"text":{"field":"t"}}}
       ]}
     ]},
    {"width":176,"height":117,"title":{"text":"NQO-1","dx":7,"offset":-9},"resolve":{"scale":{"x":"independent"},"axis":{"x":"independent"}},
     "layer":[
      {"data":{"name":"c2"},"encoding":{"x":{"field":"group","type":"nominal","sort":["Control","Smoke","TBI","Smoke + TBI"],"title":null,"scale":{"paddingInner":0.34,"paddingOuter":0.32}},"y":{"field":"mean","type":"quantitative","scale":{"domain":[0,1.5],"nice":false},"axis":{"title":["Relative Protein Level","( NQO-1/β-Actin)"],"titleFontSize":10,"titleLineHeight":13,"titlePadding":4,"values":[0,0.5,1,1.5],"format":".1f","labelOverlap":false}}},
       "layer":[
        {"mark":{"type":"rule","color":"#222","strokeWidth":1.5},"encoding":{"y2":{"field":"upper"}}},
        {"mark":{"type":"tick","size":18,"thickness":1.5,"color":"#222"},"encoding":{"y":{"field":"upper","type":"quantitative","axis":{"title":["Relative Protein Level","( NQO-1/β-Actin)"],"titleFontSize":10,"titleLineHeight":13,"titlePadding":4,"values":[0,0.5,1,1.5],"format":".1f","labelOverlap":false}}}},
        {"mark":{"type":"bar","stroke":"#ddd","strokeWidth":0.5},"encoding":{"color":{"field":"group","type":"nominal","scale":{"domain":["Control","Smoke","TBI","Smoke + TBI"],"range":["#0000ee","#ff0000","#00bb00","#aa00e0"]},"legend":null}}}
       ]},
      {"encoding":{"x":{"field":"q","type":"quantitative","scale":{"domain":[-0.634,3.659],"nice":false,"zero":false},"axis":null},"y":{"field":"y","type":"quantitative","axis":{"title":["Relative Protein Level","( NQO-1/β-Actin)"],"titleFontSize":10,"titleLineHeight":13,"titlePadding":4,"values":[0,0.5,1,1.5],"format":".1f","labelOverlap":false}}},
       "layer":[
        {"data":{"name":"c2l"},"mark":{"type":"line","color":"#888","strokeWidth":1},"encoding":{"detail":{"field":"b"},"order":{"field":"o"}}},
        {"data":{"name":"c2t"},"transform":[{"filter":"datum.k=='sig'"}],"mark":{"type":"text","fontSize":10,"color":"#222"},"encoding":{"text":{"field":"t"}}},
        {"data":{"name":"c2t"},"transform":[{"filter":"datum.k=='alt'"}],"mark":{"type":"text","fontSize":7,"color":"#888"},"encoding":{"text":{"field":"t"}}}
       ]}
     ]}
   ]},
   {"width":175,"height":117,
    "layer":[
     {"data":{"name":"blotC"},"encoding":{"x":{"field":"q","type":"quantitative","scale":{"domain":[-1.9,7.61],"nice":false,"zero":false},"axis":null},"y":{"field":"r","type":"quantitative","scale":{"domain":[-6.21,2.14],"nice":false,"zero":false,"reverse":true},"axis":null}},
      "layer":[
       {"mark":{"type":"tick","orient":"horizontal","size":18.5,"thickness":13,"color":"#dcdcdc","opacity":1}},
       {"mark":{"type":"tick","orient":"horizontal","size":17,"thickness":10,"color":"#111","opacity":0.3}},
       {"mark":{"type":"tick","orient":"horizontal","size":16,"thickness":6,"color":"#111"},"encoding":{"opacity":{"field":"i","type":"quantitative","scale":{"domain":[0,1],"range":[0.1,1]},"legend":null}}}
      ]},
     {"data":{"name":"laneA"},"mark":{"type":"text","angle":315,"align":"left","baseline":"middle","fontSize":8.5,"fontStyle":"italic"},"encoding":{"x":{"field":"q","type":"quantitative"},"y":{"datum":-0.6},"text":{"field":"group"},"color":{"field":"group","type":"nominal","scale":{"domain":["Control","Smoke","TBI","Smoke + TBI"],"range":["#222222","#ee2222","#11aa44","#a020e0"]},"legend":null}}},
     {"data":{"values":[{"t":"NQO-1","r":0}]},"mark":{"type":"text","align":"right","fontSize":8,"color":"#2222ee"},"encoding":{"x":{"datum":-0.6},"y":{"field":"r","type":"quantitative"},"text":{"field":"t"}}},
     {"data":{"values":[{"t":"β–Actin","r":1}]},"mark":{"type":"text","align":"right","fontSize":8.5,"color":"#222"},"encoding":{"x":{"datum":-0.6},"y":{"field":"r","type":"quantitative"},"text":{"field":"t"}}},
     {"data":{"values":[{"t":"~31 kDa","r":0},{"t":"~43 kDa","r":1}]},"mark":{"type":"text","align":"left","fontSize":7.5,"color":"#222"},"encoding":{"x":{"datum":3.7},"y":{"field":"r","type":"quantitative"},"text":{"field":"t"}}}
    ]}
  ]}
 ]}
]
}
